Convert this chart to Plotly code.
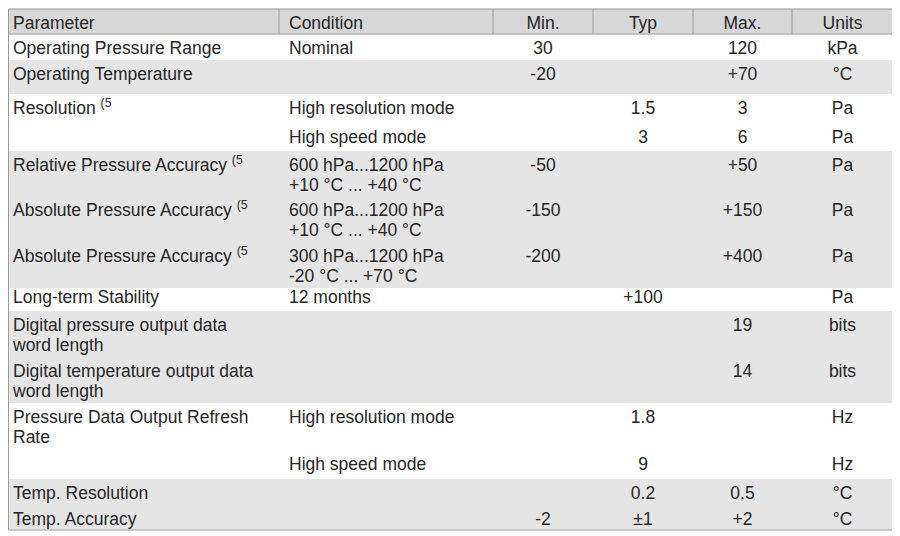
import plotly.graph_objects as go

# Spec-sheet table content, one entry per table row (<br> = second line in the cell)
header = ["Parameter", "Condition", "Min.", "Typ", "Max.", "Units"]

parameter = ["Operating Pressure Range", "Operating Temperature", "Resolution <sup>(5</sup>", "",
             "Relative Pressure Accuracy <sup>(5</sup>", "Absolute Pressure Accuracy <sup>(5</sup>",
             "Absolute Pressure Accuracy <sup>(5</sup>", "Long-term Stability",
             "Digital pressure output data<br>word length", "Digital temperature output data<br>word length",
             "Pressure Data Output Refresh<br>Rate", "", "Temp. Resolution", "Temp. Accuracy"]
condition = ["Nominal", "", "High resolution mode", "High speed mode",
             "600 hPa...1200 hPa<br>+10 °C ... +40 °C", "600 hPa...1200 hPa<br>+10 °C ... +40 °C",
             "300 hPa...1200 hPa<br>-20 °C ... +70 °C", "12 months", "", "",
             "High resolution mode", "High speed mode", "", ""]
min_val = ["30", "-20", "", "", "-50", "-150", "-200", "", "", "", "", "", "", "-2"]
typ_val = ["", "", "1.5", "3", "", "", "", "+100", "", "", "1.8", "9", "0.2", "±1"]
max_val = ["120", "+70", "3", "6", "+50", "+150", "+400", "", "19", "14", "", "", "0.5", "+2"]
units = ["kPa", "°C", "Pa", "Pa", "Pa", "Pa", "Pa", "Pa", "bits", "bits", "Hz", "Hz", "°C", "°C"]
shaded = [0, 1, 0, 0, 1, 1, 1, 0, 1, 1, 0, 0, 1, 1]

# geometry, in page pixels (the html body adds an 8px margin, so the axes start at 8)
W, H = 900, 536
PAGE_OFF = 8
TOP = 9
HEADER_H = 25
col_edges = [8.5, 279, 493, 593, 693, 792, 893]
row_h = [26, 34, 29, 28, 45, 46, 46, 23, 46, 46, 47, 29, 26, 25]
row_pad = [16, 16, 16, 16, 16, 16, 16, 11, 16, 16, 16, 16, 16, 16]
LINE_GAP = 20
FONT = dict(family="Liberation Sans, Arial, sans-serif", size=17.5, color="#262626")
HEADER_FILL = "#d7d7d7"
BODY_FILL = "#e5e5e5"
BORDER = "#9a9a9a"

row_top = []
y = TOP + HEADER_H
for h in row_h:
    row_top.append(y)
    y += h
bottom = y
left, right = col_edges[0], col_edges[-1]

columns = [parameter, condition, min_val, typ_val, max_val, units]
aligns = ["left", "left", "center", "center", "center", "center"]
text_x = [13, 289, None, None, None, None]

fig = go.Figure()

for ci, col in enumerate(columns):
    if aligns[ci] == "left":
        xpos = text_x[ci]
        tpos = "middle right"
    else:
        xpos = (col_edges[ci] + col_edges[ci + 1]) / 2
        tpos = "middle center"
    xs, ys, txt = [xpos], [TOP + 16], [header[ci]]
    for ri, cell in enumerate(col):
        if not cell:
            continue
        for li, line in enumerate(cell.split("<br>")):
            xs.append(xpos)
            ys.append(row_top[ri] + row_pad[ri] + li * LINE_GAP)
            txt.append(line)
    fig.add_trace(go.Scatter(x=xs, y=ys, text=txt, mode="text", textposition=tpos,
                             textfont=FONT, hoverinfo="skip", cliponaxis=False))

shapes = []
# header band
shapes.append(dict(type="rect", xref="x", yref="y", x0=left, x1=right, y0=TOP, y1=TOP + HEADER_H,
                   fillcolor=HEADER_FILL, line=dict(width=0), layer="below"))
# shaded body rows
for ri, s in enumerate(shaded):
    if s:
        shapes.append(dict(type="rect", xref="x", yref="y", x0=left, x1=right,
                           y0=row_top[ri], y1=row_top[ri] + row_h[ri],
                           fillcolor=BODY_FILL, line=dict(width=0), layer="below"))
# header separators
for xe in col_edges[1:-1]:
    shapes.append(dict(type="line", xref="x", yref="y", x0=xe, x1=xe, y0=TOP, y1=TOP + HEADER_H,
                       line=dict(color=BORDER, width=1)))
shapes.append(dict(type="line", xref="x", yref="y", x0=left, x1=right, y0=TOP + HEADER_H,
                   y1=TOP + HEADER_H, line=dict(color=BORDER, width=1)))
# outer border
shapes.append(dict(type="rect", xref="x", yref="y", x0=left, x1=right, y0=TOP, y1=bottom,
                   line=dict(color=BORDER, width=1)))

fig.update_layout(
    width=W, height=H,
    margin=dict(l=0, r=0, t=0, b=0),
    paper_bgcolor="white", plot_bgcolor="white",
    showlegend=False,
    shapes=shapes,
    xaxis=dict(range=[PAGE_OFF, W + PAGE_OFF], visible=False, fixedrange=True),
    yaxis=dict(range=[H + PAGE_OFF, PAGE_OFF], visible=False, fixedrange=True),
)

fig.write_html("out.html")
